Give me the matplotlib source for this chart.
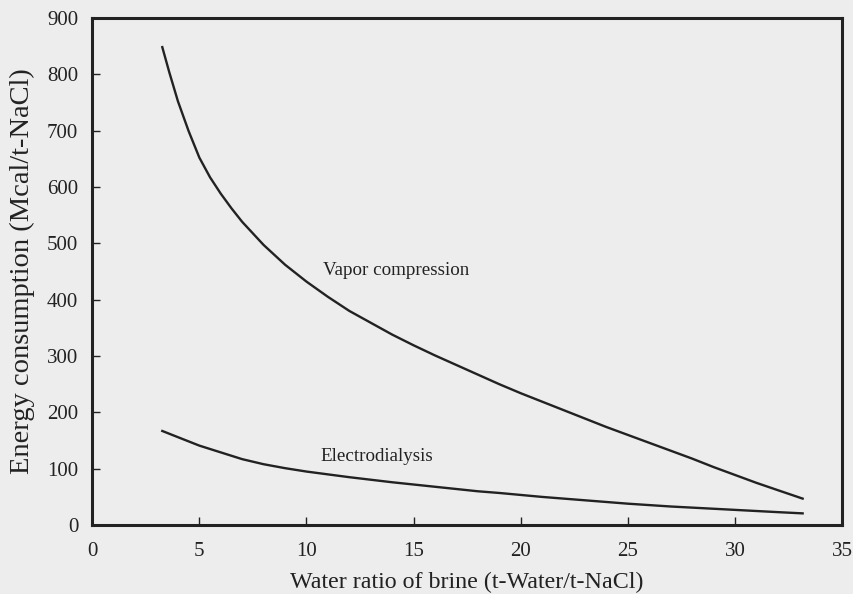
import matplotlib
matplotlib.use("Agg")
import matplotlib.pyplot as plt

plt.rcParams['font.family'] = ['Liberation Serif', 'DejaVu Serif']

# Vapor compression curve
vc_x = [3.27, 3.6, 4.0, 4.5, 5.0, 5.5, 6.0, 6.5, 7.0, 8.0, 9.0, 10, 11, 12,
        13, 14, 15, 16, 17, 18, 19, 20, 21, 22, 23, 24, 25, 26, 27, 28, 29,
        30, 31, 32, 33.16]
vc_y = [848, 803, 752, 699, 652, 617, 588, 562, 538, 497, 462, 432, 405, 380,
        359, 338, 319, 301, 284, 267, 250, 234, 219, 204, 189, 174, 160, 146,
        132, 118, 103, 89, 75, 62, 47]

# Electrodialysis curve
ed_x = [3.27, 4, 5, 6, 7, 8, 9, 10, 11, 12, 13, 14, 15, 16, 17, 18, 19,
        20, 21, 22, 23, 24, 25, 26, 27, 28, 29, 30, 31, 32, 33.16]
ed_y = [167, 156, 141, 129, 117, 108, 101, 95, 90, 85, 80.5, 76, 72, 68,
        64, 60, 57, 53.5, 50, 47, 44, 41, 38, 35.5, 33, 31, 29, 27, 25, 23,
        20.8]

x_ticks = [0, 5, 10, 15, 20, 25, 30, 35]
y_ticks = [0, 100, 200, 300, 400, 500, 600, 700, 800, 900]

bg = '#ededed'
ink = '#222222'
fig = plt.figure(figsize=(8.54, 5.94), dpi=100, facecolor=bg)
ax = fig.add_axes([0.108, 0.116, 0.878, 0.854], facecolor=bg)

ax.plot(vc_x, vc_y, color=ink, lw=1.7)
ax.plot(ed_x, ed_y, color=ink, lw=1.7)

ax.text(10.75, 452, 'Vapor compression', fontsize=13.7, va='center', color=ink)
ax.text(10.65, 121, 'Electrodialysis', fontsize=13.7, va='center', color=ink)

ax.set_xlim(0, 35)
ax.set_ylim(0, 900)
ax.set_xticks(x_ticks)
ax.set_yticks(y_ticks)
ax.tick_params(direction='in', length=6, width=1, labelsize=15, colors=ink)
ax.tick_params(axis='x', pad=12)
ax.tick_params(axis='y', pad=10)
for s in ax.spines.values():
    s.set_linewidth(2.2)
    s.set_color(ink)

ax.set_xlabel('Water ratio of brine (t-Water/t-NaCl)', fontsize=17.3, labelpad=8, color=ink)
ax.set_ylabel('Energy consumption (Mcal/t-NaCl)', fontsize=20.5, labelpad=9, color=ink)

fig.savefig('out.png', dpi=100, facecolor=bg)
